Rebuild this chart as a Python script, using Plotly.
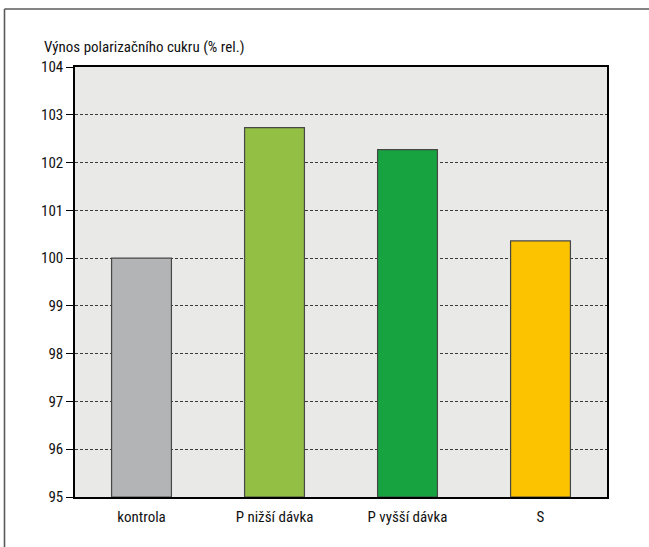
import plotly.graph_objects as go

# Data
categories = ["kontrola", "P nižší dávka", "P vyšší dávka", "S"]
values = [100.0, 102.73, 102.27, 100.36]
bar_colors = ["#b3b4b5", "#93bf45", "#17a340", "#fbc300"]
y_ticks = [95, 96, 97, 98, 99, 100, 101, 102, 103, 104]

FONT = "Liberation Sans Narrow, Arial Narrow, Roboto Condensed, sans-serif"

W, H = 649, 547
ML, MR, MT, MB = 75, 42, 67, 50
PW = W - ML - MR
PH = H - MT - MB


def px_to_paper_x(px):
    return (px - ML) / PW


def px_to_paper_y(py):
    return (H - MB - py) / PH


fig = go.Figure()
fig.add_trace(go.Bar(
    x=categories,
    y=[v - 95 for v in values],
    base=95,
    marker=dict(color=bar_colors, line=dict(color="#474747", width=1.2)),
    width=0.45,
    hoverinfo="skip",
))

fig.update_layout(
    width=W, height=H,
    margin=dict(l=ML, r=MR, t=MT, b=MB),
    paper_bgcolor="white",
    plot_bgcolor="#e9e9e8",
    showlegend=False,
    font=dict(family=FONT, color="#111111", size=14),
    xaxis=dict(
        type="category",
        showline=True, linecolor="black", linewidth=1.5, mirror=True,
        showgrid=False, ticks="", ticklabelstandoff=5,
        tickfont=dict(family=FONT, size=15, color="#111111"),
    ),
    yaxis=dict(
        range=[95, 104],
        tickvals=y_ticks,
        showline=True, linecolor="black", linewidth=1.5, mirror=True,
        ticks="outside", ticklen=7, tickcolor="black", tickwidth=1,
        showgrid=True, gridcolor="#3a3a3a", gridwidth=1, griddash="3px,2px",
        zeroline=False,
        tickfont=dict(family=FONT, size=15, color="#111111"),
    ),
    annotations=[dict(
        text="Výnos polarizačního cukru (% rel.)",
        xref="paper", yref="paper",
        x=px_to_paper_x(42), y=px_to_paper_y(47),
        xanchor="left", yanchor="middle",
        showarrow=False,
        font=dict(family=FONT, size=15, color="#111111"),
    )],
    shapes=[
        # outer frame: top and left edges
        dict(type="line", xref="paper", yref="paper", layer="above",
             x0=px_to_paper_x(4.5), x1=px_to_paper_x(649),
             y0=px_to_paper_y(9), y1=px_to_paper_y(9),
             line=dict(color="#5a5a5a", width=1.6)),
        dict(type="line", xref="paper", yref="paper", layer="above",
             x0=px_to_paper_x(4.5), x1=px_to_paper_x(4.5),
             y0=px_to_paper_y(9), y1=px_to_paper_y(547),
             line=dict(color="#5a5a5a", width=1.6)),
    ],
)

fig.write_html("out.html")
